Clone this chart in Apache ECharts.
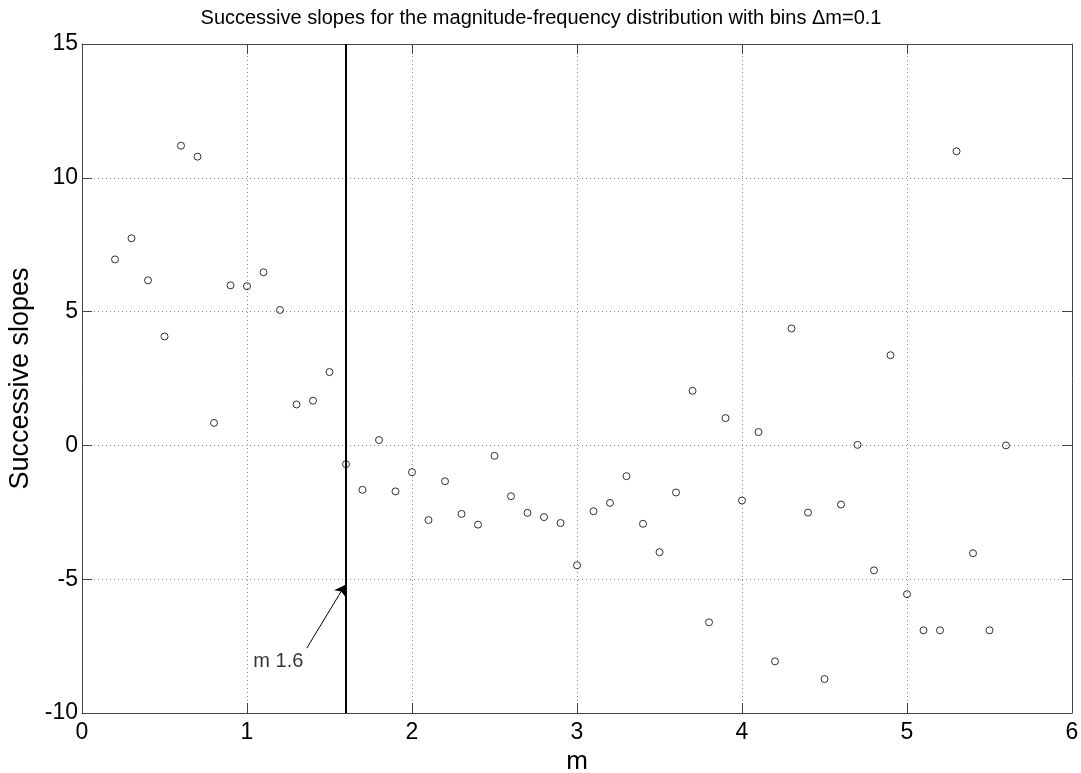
<!DOCTYPE html>
<html>
<head>
<meta charset="utf-8">
<script src="https://cdn.jsdelivr.net/npm/echarts@6/dist/echarts.min.js"></script>
<style>
  html, body { margin: 0; padding: 0; background: #fff; }
  #main { width: 1081px; height: 773px; }
</style>
</head>
<body>
<div id="main"></div>
<script>
// magnitude bins (centre of each Δm=0.1 bin)
const magnitudes = [
  0.2, 0.3, 0.4, 0.5, 0.6, 0.7, 0.8, 0.9, 1.0, 1.1,
  1.2, 1.3, 1.4, 1.5, 1.6, 1.7, 1.8, 1.9, 2.0, 2.1,
  2.2, 2.3, 2.4, 2.5, 2.6, 2.7, 2.8, 2.9, 3.0, 3.1,
  3.2, 3.3, 3.4, 3.5, 3.6, 3.7, 3.8, 3.9, 4.0, 4.1,
  4.2, 4.3, 4.4, 4.5, 4.6, 4.7, 4.8, 4.9, 5.0, 5.1,
  5.2, 5.3, 5.4, 5.5, 5.6
];
// successive slopes
const slopes = [
  6.95, 7.74, 6.17, 4.07, 11.2, 10.79, 0.84, 5.98, 5.95, 6.47,
  5.06, 1.53, 1.67, 2.74, -0.70, -1.66, 0.20, -1.72, -1.0, -2.79,
  -1.34, -2.56, -2.96, -0.39, -1.90, -2.52, -2.68, -2.90, -4.48, -2.46,
  -2.15, -1.15, -2.93, -3.99, -1.76, 2.04, -6.61, 1.02, -2.06, 0.50,
  -8.07, 4.37, -2.51, -8.73, -2.21, 0.02, -4.67, 3.37, -5.56, -6.91,
  -6.91, 10.99, -4.03, -6.91, 0.0
];
const xTicks = [0, 6, 1];      // min, max, interval
const yTicks = [-10, 15, 5];
const cutoffM = 1.6;
const cutoffLabel = 'm 1.6';
const arrowFrom = [1.362, -7.58];
const arrowTo = [1.594, -5.22];
const labelAt = [1.19, -8.07];

const font = 'Arial, "Liberation Sans", Helvetica, sans-serif';
const frameColor = '#444';

const points = magnitudes.map((m, i) => [m, slopes[i]]);

const frameAxis = (pos, ticks, extra) => Object.assign({
  type: 'value',
  position: pos,
  min: ticks[0],
  max: ticks[1],
  interval: ticks[2],
  axisLine: { show: true, onZero: false, lineStyle: { color: frameColor, width: 1 } },
  axisTick: { show: true, inside: true, length: 10, lineStyle: { color: frameColor } },
  axisLabel: { show: false },
  splitLine: { show: false }
}, extra || {});

const chart = echarts.init(document.getElementById('main'));
chart.setOption({
  animation: false,
  backgroundColor: '#fff',
  title: {
    text: 'Successive slopes for the magnitude-frequency distribution with bins \u0394m=0.1',
    left: 536,
    textAlign: 'center',
    top: 3,
    textStyle: { fontFamily: font, fontSize: 20, fontWeight: 'normal', color: '#000' }
  },
  // v6 would otherwise shrink the grid to fit the axis names
  grid: { left: 82, right: 9, top: 44, bottom: 60, outerBoundsMode: 'none' },
  xAxis: [
    frameAxis('bottom', xTicks, {
      name: 'm',
      nameLocation: 'middle',
      nameGap: 31,
      nameTextStyle: { fontFamily: font, fontSize: 26, color: '#000' },
      axisLabel: { show: true, margin: 8, fontFamily: font, fontSize: 23, color: '#000' },
      splitLine: { show: true, lineStyle: { color: '#8a8a8a', type: [1, 3], width: 1 } }
    }),
    frameAxis('top', xTicks)
  ],
  yAxis: [
    frameAxis('left', yTicks, {
      name: 'Successive slopes',
      nameLocation: 'middle',
      nameGap: 33,
      nameTextStyle: { fontFamily: font, fontSize: 27, color: '#000' },
      axisLabel: { show: true, margin: 4, fontFamily: font, fontSize: 23, color: '#000' },
      splitLine: { show: true, lineStyle: { color: '#8a8a8a', type: [1, 3], width: 1 } }
    }),
    frameAxis('right', yTicks)
  ],
  series: [
    {
      name: 'cutoff',
      type: 'line',
      data: [[cutoffM, yTicks[0]], [cutoffM, yTicks[1]]],
      showSymbol: false,
      symbol: 'none',
      lineStyle: { color: '#000', width: 2 },
      silent: true,
      z: 2
    },
    {
      name: 'slopes',
      type: 'scatter',
      data: points,
      symbol: 'circle',
      symbolSize: 7,
      itemStyle: { color: 'rgba(0,0,0,0)', borderColor: '#000', borderWidth: 1 },
      z: 3,
      markLine: {
        silent: true,
        symbol: ['none', 'arrow'],
        symbolSize: 10,
        lineStyle: { color: '#000', width: 1, type: 'solid' },
        itemStyle: { color: '#000' },
        label: { show: false },
        data: [[{ coord: arrowFrom }, { coord: arrowTo }]]
      }
    },
    {
      name: 'label',
      type: 'scatter',
      data: [labelAt],
      symbolSize: 0,
      silent: true,
      label: {
        show: true,
        position: 'inside',
        formatter: cutoffLabel,
        fontFamily: font,
        fontSize: 20,
        color: '#000'
      }
    }
  ]
});
</script>
</body>
</html>
